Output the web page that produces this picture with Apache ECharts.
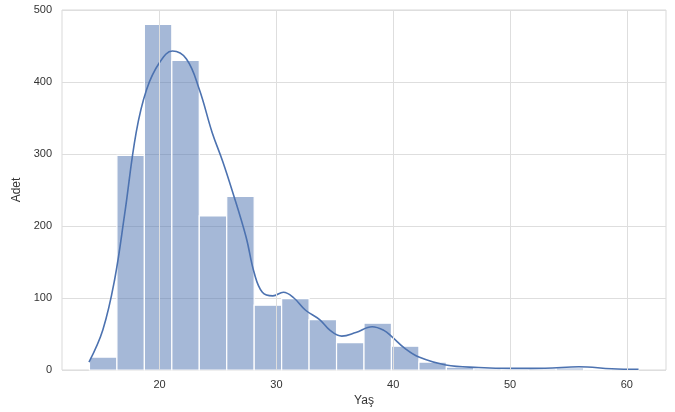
<!DOCTYPE html>
<html>
<head>
<meta charset="utf-8">
<script src="https://cdn.jsdelivr.net/npm/echarts@6/dist/echarts.min.js"></script>
<style>html,body{margin:0;padding:0;background:#fff}#c{width:675px;height:412px}</style>
</head>
<body>
<div id="c"></div>
<script>
// Histogram bin edges (years) and counts
const binEdges = [14, 16.35, 18.7, 21.05, 23.4, 25.75, 28.1, 30.45, 32.8, 35.15, 37.5, 39.85, 42.2, 44.55, 46.9, 49.25, 51.6, 53.95, 56.3, 58.65, 61];
const counts = [18, 298, 480, 430, 214, 241, 90, 99, 70, 38, 65, 33, 11, 4, 2, 1, 2, 3, 1, 1];
// KDE curve points [age, count]
const kdeX = [13.96, 15.15, 16.15, 17.0, 18.0, 18.9, 20.0, 21.1, 22.3, 23.4, 24.5, 25.4, 26.2, 27.4, 28.1, 28.8, 29.7, 30.6, 31.5, 32.5, 33.7, 34.6, 35.6, 36.8, 38.2, 39.2, 39.9, 41.0, 42.2, 44.5, 47.3, 50.2, 53.0, 55.9, 58.7, 61.0];
const kdeY = [11, 56, 125, 215, 330, 390, 427, 443, 432, 390, 330, 290, 250, 185, 135, 108, 103, 108, 100, 83, 70, 55, 47, 52, 60, 55, 46, 30, 18, 7, 3.5, 2.3, 2.5, 4.6, 1.8, 1];
const xTicks = [20, 30, 40, 50, 60];
const yTicks = [0, 100, 200, 300, 400, 500];

const binData = counts.map((c, i) => [binEdges[i], binEdges[i + 1], c]);
const kdeData = kdeX.map((x, i) => [x, kdeY[i]]);

const chart = echarts.init(document.getElementById('c'));
chart.setOption({
  animation: false,
  backgroundColor: '#fff',
  grid: { left: 62, right: 9, top: 10, bottom: 42, show: true, borderColor: '#d9d9d9', borderWidth: 1 },
  xAxis: {
    type: 'value', min: 11.65, max: 63.35,
    name: 'Yaş', nameLocation: 'middle', nameGap: 24,
    nameTextStyle: { color: '#333', fontSize: 12, fontFamily: 'Liberation Sans' },
    axisLine: { show: false }, axisTick: { show: false },
    axisLabel: { customValues: xTicks, color: '#333', fontSize: 11, fontFamily: 'Liberation Sans', margin: 9 },
    splitLine: { show: false }
  },
  yAxis: {
    type: 'value', min: 0, max: 500, interval: 100,
    name: 'Adet', nameLocation: 'middle', nameGap: 37,
    nameTextStyle: { color: '#333', fontSize: 12, fontFamily: 'Liberation Sans' },
    axisLine: { show: false }, axisTick: { show: false },
    axisLabel: { color: '#333', fontSize: 11, fontFamily: 'Liberation Sans', margin: 10 },
    splitLine: { show: true, lineStyle: { color: '#dedede', width: 1 } }
  },
  series: [
    {
      type: 'line', data: [], silent: true,
      markLine: {
        symbol: 'none', silent: true, label: { show: false },
        lineStyle: { color: '#dedede', width: 1, type: 'solid' },
        data: xTicks.map(v => ({ xAxis: v }))
      }
    },
    {
      type: 'custom',
      data: binData,
      encode: { x: [0, 1], y: 2 },
      renderItem: function (params, api) {
        const p0 = api.coord([api.value(0), 0]);
        const p1 = api.coord([api.value(1), api.value(2)]);
        return {
          type: 'rect',
          shape: { x: p0[0], y: p1[1], width: p1[0] - p0[0], height: p0[1] - p1[1] },
          style: { fill: 'rgba(76,114,176,0.5)', stroke: '#ffffff', lineWidth: 1.2 }
        };
      }
    },
    {
      type: 'line', data: kdeData, smooth: 0.4, symbol: 'none',
      lineStyle: { color: '#4c72b0', width: 1.6 }
    }
  ]
});
</script>
</body>
</html>
